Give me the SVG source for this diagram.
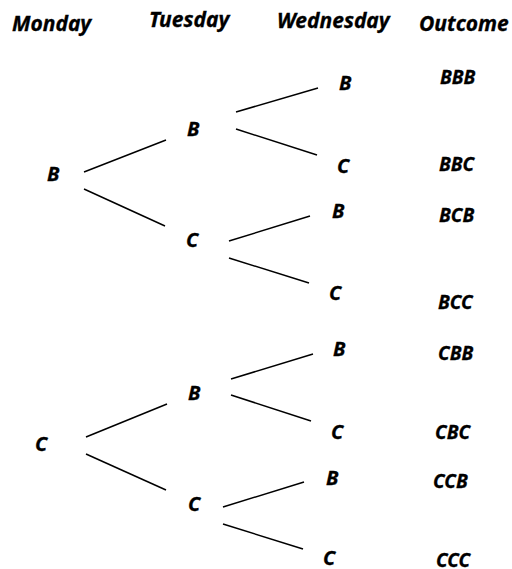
<svg xmlns="http://www.w3.org/2000/svg" width="512" height="569" viewBox="0 0 512 569">
<style>
text{font-family:"Noto Sans","Open Sans","Liberation Sans",sans-serif;font-weight:bold;font-style:italic;fill:#000;stroke:#000;stroke-width:0.3;}
.h{font-size:21px;}
.n{font-size:20px;}
.o{font-size:19px;}
#connectors line{stroke:#000;stroke-width:1.5;stroke-linecap:butt;}
</style>
<rect width="512" height="569" fill="#fff"/>
<g id="headers">
<text class="h" x="12" y="31">Monday</text>
<text class="h" x="149" y="27">Tuesday</text>
<text class="h" x="277" y="28">Wednesday</text>
<text class="h" x="419" y="31">Outcome</text>
</g>
<g id="connectors">
<line x1="84" y1="172" x2="166" y2="140"/>
<line x1="84" y1="189" x2="165" y2="226"/>
<line x1="236" y1="112" x2="318" y2="88"/>
<line x1="236" y1="129" x2="317" y2="155"/>
<line x1="229" y1="241" x2="310" y2="216"/>
<line x1="229" y1="258" x2="309" y2="283"/>
<line x1="86" y1="437" x2="167" y2="404"/>
<line x1="86" y1="454" x2="166" y2="490"/>
<line x1="231" y1="379" x2="313" y2="354"/>
<line x1="231" y1="395" x2="311" y2="421"/>
<line x1="223" y1="507" x2="304" y2="482"/>
<line x1="223" y1="524" x2="303" y2="549"/>
</g>
<g id="mon-B"><text class="n" x="47" y="181">B</text></g>
<g id="mon-C"><text class="n" x="35" y="451">C</text></g>
<g id="tue-BB"><text class="n" x="187" y="136">B</text></g>
<g id="tue-BC"><text class="n" x="186" y="247">C</text></g>
<g id="tue-CB"><text class="n" x="188" y="400">B</text></g>
<g id="tue-CC"><text class="n" x="188" y="511">C</text></g>
<g id="wed-BBB"><text class="n" x="339" y="90">B</text></g>
<g id="wed-BBC"><text class="n" x="337" y="173">C</text></g>
<g id="wed-BCB"><text class="n" x="332" y="218">B</text></g>
<g id="wed-BCC"><text class="n" x="329" y="300">C</text></g>
<g id="wed-CBB"><text class="n" x="333" y="356">B</text></g>
<g id="wed-CBC"><text class="n" x="331" y="439">C</text></g>
<g id="wed-CCB"><text class="n" x="326" y="485">B</text></g>
<g id="wed-CCC"><text class="n" x="323" y="565">C</text></g>
<g id="outcomes">
<text class="o" x="440" y="84">BBB</text>
<text class="o" x="439" y="171">BBC</text>
<text class="o" x="439" y="222">BCB</text>
<text class="o" x="438" y="309">BCC</text>
<text class="o" x="438" y="360">CBB</text>
<text class="o" x="435" y="439">CBC</text>
<text class="o" x="433" y="488">CCB</text>
<text class="o" x="436" y="567">CCC</text>
</g>
</svg>
